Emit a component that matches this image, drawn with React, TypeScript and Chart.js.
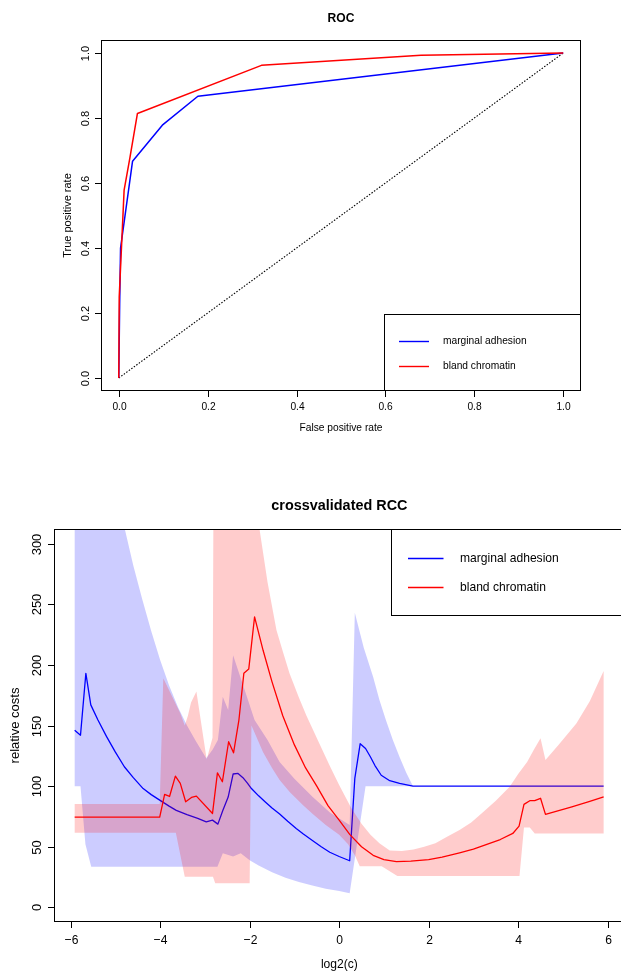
import React, { useEffect, useRef } from 'react';
import { Chart, registerables } from 'chart.js';

Chart.register(...registerables);

const FONT = '"Liberation Sans", Arial, Helvetica, sans-serif';
const SX = 0.93;

// ---------- ROC panel data ----------
const rocTicks = [0, 0.2, 0.4, 0.6, 0.8, 1.0];
const rocTickLabels = ['0.0', '0.2', '0.4', '0.6', '0.8', '1.0'];
const diagX = [0, 1];
const diagY = [0, 1];
const rocBlueFpr = [0, 0.002, 0.004, 0.031, 0.098, 0.178, 1];
const rocBlueTpr = [0, 0.23, 0.40, 0.667, 0.778, 0.867, 1];
const rocRedFpr = [0, 0.001, 0.012, 0.025, 0.042, 0.321, 0.68, 1];
const rocRedTpr = [0, 0.25, 0.578, 0.677, 0.814, 0.962, 0.993, 1];
const seriesNames = ['marginal adhesion', 'bland chromatin'];

// ---------- RCC panel data ----------
const rccXTicks = [-6, -4, -2, 0, 2, 4, 6];
const rccXTickLabels = ['\u22126', '\u22124', '\u22122', '0', '2', '4', '6'];
const rccYTicks = [0, 50, 100, 150, 200, 250, 300];
const rccYTickLabels = ['0', '50', '100', '150', '200', '250', '300'];

const blueX = [-5.91, -5.78, -5.66, -5.55, -5.39, -5.2, -5.0, -4.8, -4.6, -4.38, -4.2, -4.01, -3.8, -3.64, -3.4, -3.16, -2.97, -2.83, -2.71, -2.6, -2.48, -2.37, -2.26, -2.15, -2.05, -1.96, -1.8, -1.65, -1.5, -1.33, -1.15, -0.96, -0.8, -0.59, -0.4, -0.21, 0, 0.235, 0.35, 0.47, 0.59, 0.7, 0.8, 0.94, 1.13, 1.35, 1.65, 5.91];
const blueY = [146, 142, 193, 167, 154.5, 141, 128, 116, 107, 98, 93, 88.5, 83.5, 80, 76.5, 73.4, 70.6, 72, 68.7, 80, 91, 110, 110.5, 107, 102.5, 98, 92, 87, 82, 77, 71, 65, 60.5, 55, 50, 45.5, 42, 38.5, 106.4, 135, 131, 124, 117, 109, 104.5, 102.3, 100, 100];

const redX = [-5.91, -4.01, -3.9, -3.79, -3.66, -3.55, -3.43, -3.3, -3.19, -2.83, -2.72, -2.61, -2.47, -2.36, -2.24, -2.13, -2.02, -1.89, -1.7, -1.5, -1.26, -1.0, -0.75, -0.5, -0.25, 0, 0.24, 0.5, 0.76, 1.0, 1.28, 1.6, 2.0, 2.3, 2.69, 3.0, 3.3, 3.6, 3.88, 4.02, 4.13, 4.26, 4.37, 4.5, 4.61, 5.2, 5.6, 5.91];
const redY = [74.5, 74.5, 93.2, 91.5, 108.3, 102.3, 87.1, 90.7, 91.8, 77.5, 111, 103.6, 136.6, 127.5, 154.5, 193, 196.5, 239.6, 212, 186, 158, 134, 115, 100, 84, 72, 60, 50, 43, 39.5, 37.7, 38.2, 39.5, 41.5, 45, 48, 52, 56, 61, 67, 85, 88, 88, 90, 76.7, 83, 87.5, 91.2];

const blueUpperX = [-5.91, -5.3, -4.79, -4.6, -4.4, -4.2, -4.0, -3.8, -3.6, -3.4, -3.2, -2.97, -2.83, -2.71, -2.6, -2.48, -2.37, -2.1, -1.89, -1.6, -1.33, -1.0, -0.59, -0.2, 0.235, 0.35, 0.55, 0.76, 0.9, 1.05, 1.2, 1.35, 1.5, 1.65, 5.91];
const blueUpperY = [480, 380, 312, 282, 254, 228, 204, 183, 165, 150, 137, 123, 130, 138, 173.6, 162.7, 208, 178, 154.5, 138, 120, 106, 91, 78, 68, 243, 214, 190, 171, 154, 138, 124, 111, 100, 100];
const blueLowerX = [-5.91, -5.78, -5.67, -5.54, -2.72, -2.6, -2.37, -2.2, -2.0, -1.8, -1.5, -1.2, -0.9, -0.6, -0.3, 0, 0.235, 0.59, 5.91];
const blueLowerY = [100, 100, 52, 33.5, 33.5, 44.6, 42, 44.6, 39, 34.5, 29, 24.5, 21, 18, 15.5, 13.5, 11.6, 100, 100];

const redUpperX = [-5.91, -4.01, -3.93, -3.55, -3.45, -3.38, -3.31, -3.19, -2.96, -2.83, -2.77, -2.3, -1.78, -1.6, -1.4, -1.25, -1.11, -0.9, -0.73, -0.59, -0.44, -0.2, 0, 0.27, 0.5, 0.7, 0.9, 1.13, 1.4, 1.66, 1.9, 2.15, 2.4, 2.69, 2.95, 3.2, 3.5, 3.81, 4.0, 4.2, 4.35, 4.5, 4.61, 4.9, 5.3, 5.6, 5.91];
const redUpperY = [85.2, 85.2, 189, 160, 150, 158, 169, 178, 122, 140, 700, 440, 312, 268, 228.6, 210, 193, 173, 158, 147, 135, 116, 101, 82, 69, 60, 53, 47, 46.5, 47.8, 50, 53, 58, 63.8, 70, 78, 88, 99.5, 110, 120, 130, 139.4, 121.5, 134, 151.7, 170, 195];
const redLowerX = [-5.91, -3.65, -3.45, -2.82, -2.77, -2.0, -1.96, -1.7, -1.5, -1.33, -1.1, -0.8, -0.59, -0.3, 0, 0.2, 0.35, 0.46, 0.95, 1.3, 4.03, 4.13, 4.26, 4.37, 5.91];
const redLowerY = [61.6, 61.6, 25.3, 25.3, 19.9, 19.9, 150, 128, 115, 105, 95, 84, 77, 68, 60, 52, 43, 34, 34, 26, 26, 66, 66, 61, 61];

const BLUE = '#0000FF';
const RED = '#FF0000';

const zip = (xs: number[], ys: number[]) => xs.map((x, i) => ({ x, y: ys[i] }));
const band = (ux: number[], uy: number[], lx: number[], ly: number[]) => [
  ...zip(ux, uy),
  ...zip(lx, ly).reverse(),
];

function drawText(
  ctx: CanvasRenderingContext2D,
  s: string,
  x: number,
  y: number,
  font: string,
  align: CanvasTextAlign = 'center',
  rot = 0
) {
  ctx.save();
  ctx.translate(x, y);
  ctx.scale(SX, 1);
  if (rot) ctx.rotate(rot);
  ctx.font = font;
  ctx.textAlign = align;
  ctx.textBaseline = 'middle';
  ctx.fillStyle = '#000';
  ctx.fillText(s, 0, 0);
  ctx.restore();
}

type Decor = {
  title: string;
  titleSize: number;
  titleX: number;
  titleY: number;
  labelSize: number;
  xTicks: number[];
  xTickLabels: string[];
  yTicks: number[];
  yTickLabels: string[];
  xLabY: number;
  yLabX: number;
  xTitle: string;
  xTitleX: number;
  xTitleY: number;
  yTitle: string;
  yTitleX: number;
  tickLen: number;
  boxRight: number | null;
  legend: { x1: number; y1: number; x2: number; y2: number; lx1: number; lx2: number; tx: number; rows: number[]; size: number };
};

function makeDecor(cfg: Decor) {
  return {
    id: 'rdecor',
    afterDraw(chart: any) {
      const ctx: CanvasRenderingContext2D = chart.ctx;
      const { left, right, top, bottom } = chart.chartArea;
      const xs = chart.scales.x;
      const ys = chart.scales.y;
      const lab = `${cfg.labelSize}px ${FONT}`;
      ctx.save();
      ctx.strokeStyle = '#000';
      ctx.lineWidth = 1;
      const r = cfg.boxRight ?? right;
      ctx.strokeRect(Math.round(left) + 0.5, Math.round(top) + 0.5, Math.round(r - left) - 1, Math.round(bottom - top) - 1);
      cfg.xTicks.forEach((v, i) => {
        const px = Math.round(xs.getPixelForValue(v)) + 0.5;
        ctx.beginPath();
        ctx.moveTo(px, bottom);
        ctx.lineTo(px, bottom + cfg.tickLen);
        ctx.stroke();
        drawText(ctx, cfg.xTickLabels[i], px, cfg.xLabY, lab);
      });
      cfg.yTicks.forEach((v, i) => {
        const py = Math.round(ys.getPixelForValue(v)) + 0.5;
        ctx.beginPath();
        ctx.moveTo(left, py);
        ctx.lineTo(left - cfg.tickLen, py);
        ctx.stroke();
        drawText(ctx, cfg.yTickLabels[i], cfg.yLabX, py, lab, 'center', -Math.PI / 2);
      });
      drawText(ctx, cfg.title, cfg.titleX, cfg.titleY, `bold ${cfg.titleSize}px ${FONT}`);
      drawText(ctx, cfg.xTitle, cfg.xTitleX, cfg.xTitleY, lab);
      drawText(ctx, cfg.yTitle, cfg.yTitleX, (top + bottom) / 2, lab, 'center', -Math.PI / 2);
      const L = cfg.legend;
      ctx.fillStyle = '#fff';
      ctx.fillRect(L.x1, L.y1, L.x2 - L.x1, L.y2 - L.y1);
      ctx.strokeStyle = '#000';
      ctx.lineWidth = 1;
      ctx.strokeRect(Math.round(L.x1) + 0.5, Math.round(L.y1) + 0.5, Math.round(L.x2 - L.x1) - 1, Math.round(L.y2 - L.y1) - 1);
      const cols = [BLUE, RED];
      L.rows.forEach((ry, i) => {
        ctx.strokeStyle = cols[i];
        ctx.lineWidth = 1.4;
        ctx.beginPath();
        ctx.moveTo(L.lx1, ry + 0.5);
        ctx.lineTo(L.lx2, ry + 0.5);
        ctx.stroke();
        drawText(ctx, seriesNames[i], L.tx, ry, `${L.size}px ${FONT}`, 'left');
      });
      ctx.restore();
    },
  };
}

const lineDs = (data: any[], color: string, width: number, order: number, dash: number[] = []) => ({
  data,
  borderColor: color,
  borderWidth: width,
  borderDash: dash,
  pointRadius: 0,
  fill: false,
  tension: 0,
  borderJoinStyle: 'round',
  borderCapStyle: 'butt',
  order,
});

const bandDs = (data: any[], color: string, order: number) => ({
  data,
  borderColor: 'transparent',
  borderWidth: 0,
  pointRadius: 0,
  backgroundColor: color,
  fill: 'shape',
  tension: 0,
  order,
});

const baseOptions = (padding: any, xMin: number, xMax: number, yMin: number, yMax: number) => ({
  responsive: false,
  animation: false,
  events: [],
  layout: { padding },
  scales: {
    x: { type: 'linear', min: xMin, max: xMax, display: false },
    y: { type: 'linear', min: yMin, max: yMax, display: false },
  },
  plugins: { legend: { display: false }, tooltip: { enabled: false }, title: { display: false } },
});

export default function App() {
  const rocRef = useRef<HTMLCanvasElement>(null);
  const rccRef = useRef<HTMLCanvasElement>(null);

  useEffect(() => {
    const roc = new Chart(rocRef.current as HTMLCanvasElement, {
      type: 'line',
      data: {
        datasets: [
          lineDs(zip(diagX, diagY), '#000', 1.1, 3, [1.5, 1.6]),
          lineDs(zip(rocBlueFpr, rocBlueTpr), BLUE, 1.5, 2),
          lineDs(zip(rocRedFpr, rocRedTpr), RED, 1.5, 1),
        ] as any,
      },
      options: baseOptions({ left: 101, right: 40, top: 40, bottom: 79 }, -0.04, 1.04, -0.04, 1.04) as any,
      plugins: [
        makeDecor({
          title: 'ROC',
          titleSize: 13,
          titleX: 341,
          titleY: 18,
          labelSize: 11,
          xTicks: rocTicks,
          xTickLabels: rocTickLabels,
          yTicks: rocTicks,
          yTickLabels: rocTickLabels,
          xLabY: 407,
          yLabX: 86.5,
          xTitle: 'False positive rate',
          xTitleX: 341,
          xTitleY: 428,
          yTitle: 'True positive rate',
          yTitleX: 68,
          tickLen: 6,
          boxRight: null,
          legend: { x1: 384, y1: 314, x2: 581, y2: 391, lx1: 399, lx2: 429, tx: 443, rows: [341, 366], size: 11 },
        }) as any,
      ],
    });

    const rcc = new Chart(rccRef.current as HTMLCanvasElement, {
      type: 'line',
      data: {
        datasets: [
          bandDs(band(blueUpperX, blueUpperY, blueLowerX, blueLowerY), 'rgba(0,0,255,0.2)', 4),
          lineDs(zip(blueX, blueY), BLUE, 1.3, 3),
          bandDs(band(redUpperX, redUpperY, redLowerX, redLowerY), 'rgba(255,0,0,0.2)', 2),
          lineDs(zip(redX, redY), RED, 1.3, 1),
        ] as any,
      },
      options: baseOptions({ left: 54, right: 0, top: 59, bottom: 50 }, -6.372, 6.298, -12, 312) as any,
      plugins: [
        makeDecor({
          title: 'crossvalidated RCC',
          titleSize: 15.5,
          titleX: 339.4,
          titleY: 35.8,
          labelSize: 13,
          xTicks: rccXTicks,
          xTickLabels: rccXTickLabels,
          yTicks: rccYTicks,
          yTickLabels: rccYTickLabels,
          xLabY: 470.8,
          yLabX: 37.6,
          xTitle: 'log2(c)',
          xTitleX: 339.4,
          xTitleY: 494,
          yTitle: 'relative costs',
          yTitleX: 15.4,
          tickLen: 6,
          boxRight: 640,
          legend: { x1: 391, y1: 59, x2: 640, y2: 146, lx1: 408, lx2: 443.5, tx: 460, rows: [88, 117], size: 13 },
        }) as any,
      ],
    });

    return () => {
      roc.destroy();
      rcc.destroy();
    };
  }, []);

  return (
    <div style={{ position: 'absolute', left: 0, top: 0, width: 621, height: 972, background: '#fff', overflow: 'hidden' }}>
      <canvas ref={rocRef} width={621} height={470} style={{ position: 'absolute', left: 0, top: 0, width: 621, height: 470 }} />
      <canvas ref={rccRef} width={621} height={502} style={{ position: 'absolute', left: 0, top: 470, width: 621, height: 502 }} />
    </div>
  );
}
